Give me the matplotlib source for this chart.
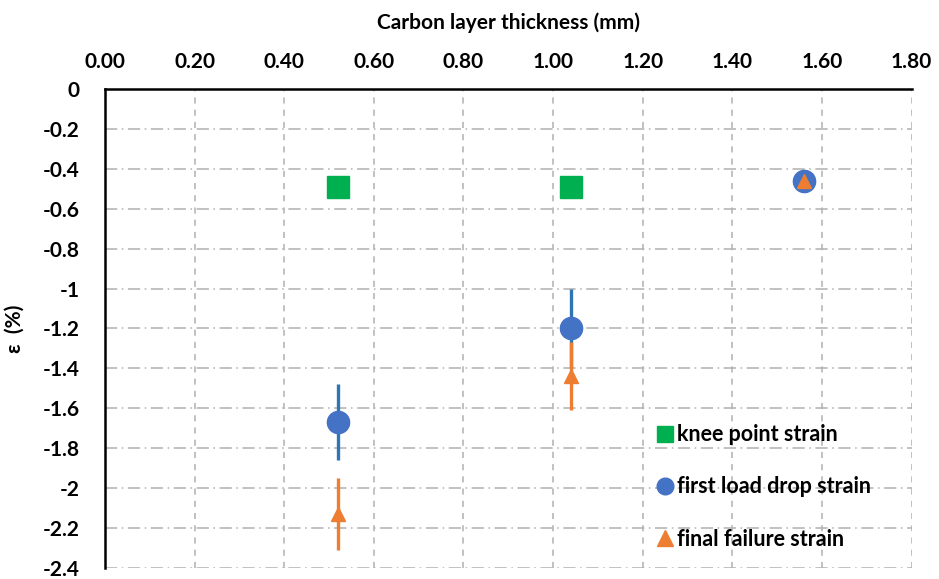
import matplotlib.pyplot as plt
from matplotlib.lines import Line2D

plt.rcParams['font.family'] = ['Lato', 'DejaVu Sans']
plt.rcParams['font.weight'] = 'bold'
plt.rcParams['axes.labelweight'] = 'bold'

# data
knee_x = [0.52, 1.04]
knee_y = [-0.49, -0.49]

drop_x = [0.52, 1.04, 1.56]
drop_y = [-1.67, -1.20, -0.46]
drop_err = [0.19, 0.20, 0.0]

fail_x = [0.52, 1.04, 1.56]
fail_y = [-2.13, -1.44, -0.46]
fail_err = [0.18, 0.17, 0.0]

xticks = [0.0, 0.2, 0.4, 0.6, 0.8, 1.0, 1.2, 1.4, 1.6, 1.8]
yticks = [0, -0.2, -0.4, -0.6, -0.8, -1, -1.2, -1.4, -1.6, -1.8, -2, -2.2, -2.4]

GREEN = "#00B050"
BLUE = "#4472C4"
BLUE_BAR = "#2E75B6"
ORANGE = "#ED7D31"

fig = plt.figure(figsize=(9.39, 5.79), dpi=100)
ax = fig.add_axes([0.1118, 0.019, 0.859, 0.8273])

ax.set_xlim(0, 1.8)
ax.set_ylim(-2.4, 0)

# grid: horizontal dash-dot, vertical dashed
for y in yticks[1:]:
    ax.axhline(y, color="#b0b0b0", lw=1.1, ls=(0, (8, 3, 1, 3)), zorder=0)
for x in xticks[1:]:
    ax.axvline(x, color="#b0b0b0", lw=1.1, ls=(0, (4, 4)), zorder=0)

ax.plot(knee_x, knee_y, ls="none", marker="s", ms=16, color=GREEN, zorder=3)
ax.errorbar(drop_x, drop_y, yerr=drop_err, ls="none", marker="o", ms=16,
            color=BLUE, ecolor=BLUE_BAR, elinewidth=2.4, capsize=0, zorder=3)
ax.errorbar(fail_x, fail_y, yerr=fail_err, ls="none", marker="^", ms=10,
            color=ORANGE, ecolor=ORANGE, elinewidth=2.4, capsize=0, zorder=4)

ax.xaxis.tick_top()
ax.xaxis.set_label_position("top")
ax.set_xticks(xticks)
ax.set_xticklabels([f"{v:.2f}" for v in xticks])
ax.set_yticks(yticks)
ax.set_yticklabels([f"{v:g}" for v in yticks])
ax.tick_params(axis="x", length=0, labelsize=15, pad=12)
ax.tick_params(axis="y", length=0, labelsize=15, pad=18)
ax.set_xlabel("Carbon layer thickness (mm)", fontsize=15, labelpad=17)
ax.set_ylabel("ε  (%)", fontsize=15)
ax.yaxis.set_label_coords(-0.1, 0.5)

for side in ("right", "bottom"):
    ax.spines[side].set_visible(False)
for side in ("left", "top"):
    ax.spines[side].set_linewidth(1.8)

handles = [
    Line2D([], [], ls="none", marker="s", ms=11, color=GREEN),
    Line2D([], [], ls="none", marker="o", ms=12, color=BLUE),
    Line2D([], [], ls="none", marker="^", ms=12, color=ORANGE),
]
labels = ["knee point strain", "first load drop strain", "final failure strain"]
ax.legend(handles, labels, loc="lower left", bbox_to_anchor=(0.655, -0.002),
          frameon=False, fontsize=15.5, labelspacing=1.45, handletextpad=0.05,
          handlelength=1.1)

fig.savefig("out.png", dpi=100)
